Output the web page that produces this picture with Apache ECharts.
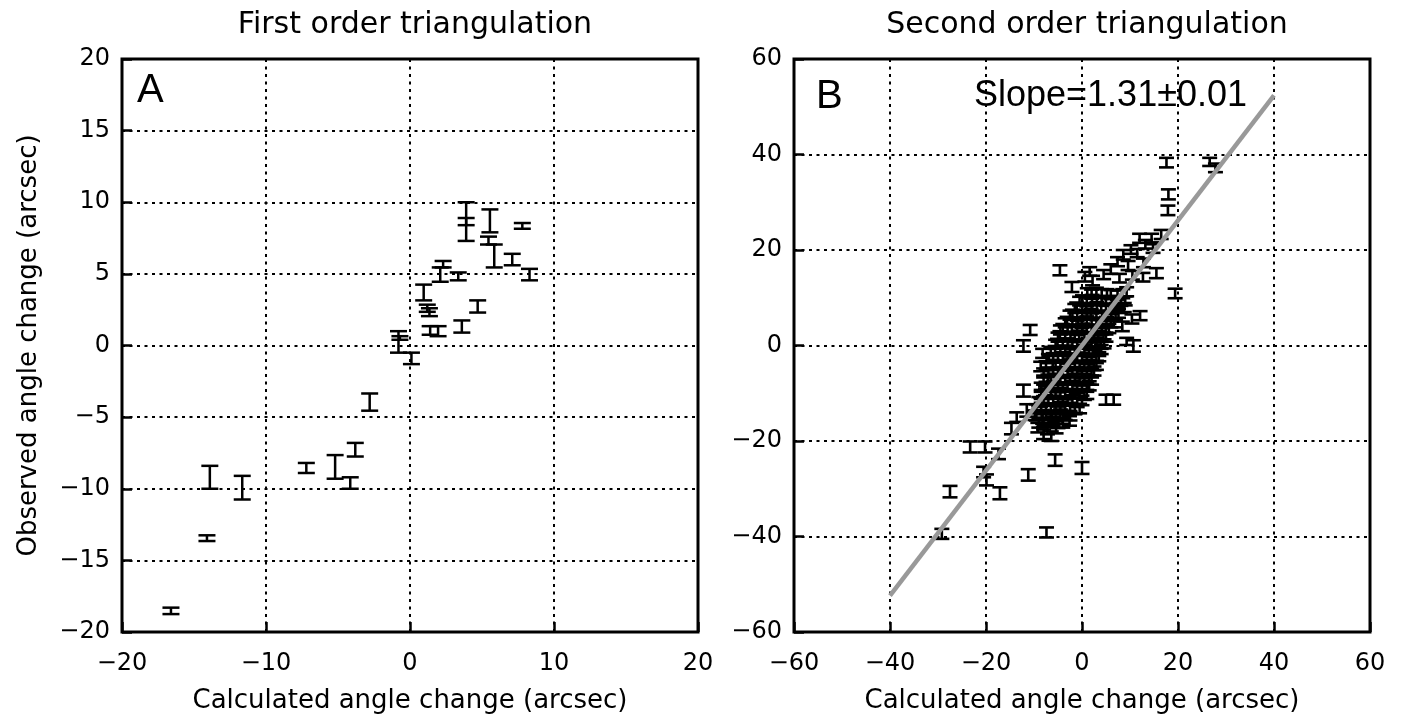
<!DOCTYPE html>
<html>
<head>
<meta charset="utf-8">
<title>Triangulation angle changes</title>
<script src="https://cdn.jsdelivr.net/npm/echarts@6/dist/echarts.min.js"></script>
<style>
  html, body { margin: 0; padding: 0; background: #fff; }
  #chart { width: 1410px; height: 723px; }
</style>
</head>
<body>
<div id="chart"></div>
<script>
// ---- text ----
const titleFirst = 'First order triangulation';
const titleSecond = 'Second order triangulation';
const xName = 'Calculated angle change (arcsec)';
const yName = 'Observed angle change (arcsec)';
const panelA = 'A';
const panelB = 'B';
const slopeText = 'Slope=1.31\u00b10.01';

// ---- axis ranges ----
const rangeFirst = { min: -20, max: 20, interval: 10, yInterval: 5 };
const rangeSecond = { min: -60, max: 60, interval: 20, yInterval: 20 };

// ---- first order: [calculated, observed low, observed high] ----
const firstOrder = [
  [-16.6, -18.75, -18.3],
  [-14.1, -13.65, -13.25],
  [-13.9, -10.0, -8.4],
  [-11.65, -10.75, -9.1],
  [-7.2, -8.9, -8.2],
  [-5.2, -9.3, -7.65],
  [-4.15, -10.0, -9.2],
  [-3.8, -7.75, -6.8],
  [-2.8, -4.55, -3.35],
  [-0.8, -0.5, 1.0],
  [-0.7, 0.4, 0.65],
  [0.1, -1.3, -0.5],
  [0.95, 3.15, 4.25],
  [1.2, 2.35, 2.85],
  [1.35, 2.05, 2.6],
  [1.4, 0.75, 1.35],
  [1.95, 0.65, 1.35],
  [2.1, 4.45, 5.45],
  [2.3, 5.45, 5.9],
  [3.35, 4.55, 5.1],
  [3.6, 0.9, 1.75],
  [3.9, 8.4, 10.0],
  [3.9, 7.3, 8.9],
  [4.7, 2.3, 3.15],
  [5.45, 7.05, 7.6],
  [5.55, 7.9, 9.5],
  [5.85, 5.45, 7.05],
  [7.1, 5.6, 6.4],
  [7.8, 8.15, 8.55],
  [8.3, 4.55, 5.35]
];

// ---- second order: [calculated, observed low, observed high] ----
const secondOuter = [
  [-29.2, -40.5, -38.4], [-7.4, -40.2, -38.1], [-27.5, -31.8, -29.4],
  [-17.1, -32.2, -29.7], [-19.9, -29.3, -27.0], [-20.5, -27.6, -25.4],
  [-23.3, -22.4, -20.1], [-20.2, -22.4, -20.1], [-17.4, -23.8, -21.6],
  [-11.2, -28.3, -25.9], [-5.6, -25.2, -22.8], [0.0, -26.9, -24.4],
  [-12.2, -10.7, -8.2], [-11.5, -14.9, -12.3], [-14.7, -18.6, -16.2],
  [-13.6, -16.0, -14.0], [5.0, -12.4, -10.3], [6.6, -12.4, -10.3],
  [10.7, -1.3, 1.1], [-10.8, 2.2, 4.3], [-12.2, -1.3, 1.1],
  [-4.6, 14.7, 16.8], [-2.1, 11.2, 13.3], [15.5, 14.1, 16.2],
  [19.4, 9.9, 11.9], [17.6, 37.3, 39.3], [26.6, 37.6, 39.3],
  [27.8, 36.3, 38.1], [18.0, 30.6, 32.7], [17.9, 27.3, 29.3],
  [9.3, 0.1, 1.6]
];

const secondBand = [
  [12.0, 21.5, 23.4], [14.5, 21.6, 23.4], [16.5, 22.3, 24.2],
  [13.2, 20.3, 22.1], [10.2, 19.2, 21.0], [8.6, 18.0, 20.0],
  [11.5, 18.5, 20.2], [7.4, 16.6, 18.5], [14.8, 19.4, 21.2],
  [9.6, 15.8, 17.7], [6.0, 15.0, 17.0], [12.8, 16.4, 18.2],
  [12.7, 13.4, 15.2], [4.5, 13.9, 15.8], [2.2, 12.6, 14.6],
  [7.8, 13.2, 15.0], [10.5, 13.8, 15.6], [0.6, 13.4, 15.4],
  [1.6, 14.6, 16.4], [12.1, 5.3, 7.2], [8.4, 3.0, 5.0],
  [10.4, 4.6, 6.5], [9.3, 10.3, 12.2], [8.8, 7.0, 8.9],
  [-8.2, -2.6, -0.7], [-8.6, -5.4, -3.4], [-7.6, -10.4, -8.5],
  [-8.6, -12.8, -10.9], [-9.8, -15.6, -13.6], [-8.2, -16.4, -14.4],
  [-6.2, -16.2, -14.2], [-4.0, -16.4, -14.4], [-2.6, -16.8, -14.8],
  [-9.2, -18.2, -16.2], [-7.2, -18.6, -16.6], [-5.4, -18.4, -16.4],
  [-8.0, -19.6, -17.6], [-6.4, -20.0, -18.0]
];

const secondCore = [
  [1.1, 10.1, 12.0], [3.0, 10.2, 12.1], [5.2, 9.9, 11.8], [7.4, 9.6, 11.5],
  [0.1, 8.4, 10.5], [2.1, 8.7, 10.6], [4.1, 8.4, 10.3], [6.2, 8.6, 10.4], [8.1, 8.3, 10.2],
  [-1.1, 7.1, 9.0], [0.9, 6.9, 8.9], [3.1, 7.2, 9.1], [5.0, 6.8, 8.7], [7.1, 7.0, 8.9],
  [-2.0, 5.6, 7.5], [0.1, 5.4, 7.4], [1.9, 5.7, 7.6], [4.2, 5.5, 7.3], [6.1, 5.4, 7.3], [7.6, 5.8, 7.7],
  [-3.1, 4.1, 6.0], [-0.9, 3.9, 5.9], [1.0, 4.2, 6.1], [3.0, 3.9, 5.8], [5.1, 4.2, 6.0], [6.6, 3.8, 5.7],
  [-4.0, 2.6, 4.5], [-2.1, 2.4, 4.4], [0.1, 2.7, 4.6], [2.0, 2.5, 4.4], [4.1, 2.3, 4.2], [5.6, 2.6, 4.5],
  [-4.6, 1.1, 3.0], [-2.4, 0.9, 2.9], [-0.6, 1.2, 3.1], [1.6, 0.9, 2.8], [3.4, 1.1, 3.0], [5.0, 0.8, 2.7],
  [-5.1, -0.6, 1.4], [-3.0, -0.4, 1.5], [-1.0, -0.7, 1.2], [1.0, -0.5, 1.4], [3.0, -0.3, 1.6], [4.6, -0.6, 1.3],
  [-5.6, -2.1, -0.1], [-3.5, -1.9, 0.0], [-1.5, -2.2, -0.2], [0.5, -1.9, 0.1], [2.4, -2.1, -0.2], [4.0, -1.8, 0.1],
  [-6.0, -3.6, -1.6], [-4.0, -3.4, -1.4], [-2.0, -3.7, -1.7], [0.0, -3.5, -1.5], [2.0, -3.6, -1.7], [3.5, -3.3, -1.4],
  [-6.1, -5.0, -3.0], [-4.5, -5.1, -3.1], [-2.5, -4.8, -2.9], [-0.5, -5.2, -3.2], [1.5, -4.9, -3.0], [3.0, -5.1, -3.2],
  [-7.0, -6.6, -4.6], [-5.0, -6.4, -4.5], [-3.0, -6.7, -4.7], [-1.0, -6.5, -4.5], [1.0, -6.6, -4.6], [2.5, -6.3, -4.4],
  [-7.1, -8.1, -6.1], [-5.5, -7.9, -5.9], [-3.5, -8.2, -6.2], [-1.5, -7.8, -5.9], [0.5, -8.0, -6.0], [2.0, -8.2, -6.3],
  [-7.5, -9.6, -7.6], [-6.0, -9.4, -7.4], [-4.0, -9.7, -7.7], [-2.0, -9.3, -7.4], [0.0, -9.6, -7.6], [1.5, -9.4, -7.5],
  [-7.6, -11.0, -9.0], [-6.5, -11.2, -9.2], [-4.5, -10.9, -8.9], [-2.5, -11.1, -9.1], [-0.5, -11.0, -9.1], [1.0, -11.2, -9.3],
  [-8.0, -12.6, -10.6], [-6.0, -12.4, -10.5], [-4.0, -12.6, -10.7], [-2.0, -12.3, -10.4], [0.0, -12.5, -10.5],
  [-8.5, -14.0, -12.0], [-6.5, -14.1, -12.1], [-4.5, -13.8, -11.9], [-2.5, -14.0, -12.0], [-0.5, -14.2, -12.2],
  [-8.4, -15.5, -13.5], [-6.5, -15.6, -13.6], [-4.5, -15.4, -13.4], [-2.5, -15.7, -13.7],
  [-8.0, -17.1, -15.1], [-6.0, -16.9, -14.9], [-4.0, -17.2, -15.2]
];

const secondCoreFill = [
  [2.0, 9.8, 11.7], [4.1, 10.0, 11.8], [6.0, 9.7, 11.6], [8.5, 9.9, 11.8],
  [-0.5, 8.4, 10.2], [1.0, 8.2, 10.1], [3.1, 8.5, 10.4], [5.0, 8.3, 10.2], [7.0, 8.1, 10.0], [9.0, 8.4, 10.3],
  [-1.5, 6.8, 8.7], [0.0, 6.9, 8.8], [2.0, 6.7, 8.6], [4.0, 6.9, 8.8], [6.0, 6.6, 8.5], [8.0, 6.8, 8.7],
  [-2.5, 5.4, 7.3], [-1.0, 5.2, 7.1], [1.0, 5.5, 7.4], [3.0, 5.3, 7.2], [5.0, 5.1, 7.0], [7.0, 5.4, 7.3],
  [-3.5, 3.8, 5.7], [-2.0, 3.9, 5.8], [0.0, 3.7, 5.6], [2.0, 3.9, 5.8], [4.0, 3.6, 5.5], [6.0, 3.8, 5.7],
  [-4.5, 2.3, 4.2], [-3.0, 2.4, 4.3], [-1.0, 2.2, 4.1], [1.0, 2.4, 4.3], [3.0, 2.1, 4.0], [5.0, 2.3, 4.2],
  [-5.0, 0.8, 2.7], [-3.5, 0.9, 2.8], [-1.5, 0.7, 2.6], [0.5, 0.9, 2.8], [2.5, 0.6, 2.5], [4.5, 0.8, 2.7],
  [-5.5, -0.7, 1.2], [-4.0, -0.6, 1.3], [-2.0, -0.8, 1.1], [0.0, -0.6, 1.3], [2.0, -0.9, 1.0], [4.0, -0.7, 1.2],
  [-6.5, -2.2, -0.3], [-4.5, -2.1, -0.2], [-2.5, -2.3, -0.4], [-0.5, -2.1, -0.2], [1.5, -2.4, -0.5], [3.5, -2.2, -0.3],
  [-7.0, -3.7, -1.8], [-5.0, -3.6, -1.7], [-3.0, -3.8, -1.9], [-1.0, -3.6, -1.7], [1.0, -3.9, -2.0], [3.0, -3.7, -1.8],
  [-7.5, -5.2, -3.3], [-5.5, -5.1, -3.2], [-3.5, -5.3, -3.4], [-1.5, -5.1, -3.2], [0.5, -5.4, -3.5], [2.5, -5.2, -3.3],
  [-8.0, -6.7, -4.8], [-6.0, -6.6, -4.7], [-4.0, -6.8, -4.9], [-2.0, -6.6, -4.7], [0.0, -6.9, -5.0], [2.0, -6.7, -4.8],
  [-8.0, -8.2, -6.3], [-6.5, -8.1, -6.2], [-4.5, -8.3, -6.4], [-2.5, -8.1, -6.2], [-0.5, -8.4, -6.5], [1.5, -8.2, -6.3],
  [-8.5, -9.7, -7.8], [-7.0, -9.6, -7.7], [-5.0, -9.8, -7.9], [-3.0, -9.6, -7.7], [-1.0, -9.9, -8.0], [1.0, -9.7, -7.8],
  [-8.5, -11.2, -9.3], [-5.5, -11.1, -9.2], [-3.5, -11.3, -9.4], [-1.5, -11.1, -9.2], [0.5, -11.4, -9.5],
  [-9.0, -12.7, -10.8], [-7.0, -12.6, -10.7], [-5.0, -12.8, -10.9], [-3.0, -12.6, -10.7], [-1.0, -12.9, -11.0],
  [-9.5, -14.2, -12.3], [-7.5, -14.1, -12.2], [-5.5, -14.3, -12.4], [-3.5, -14.1, -12.2], [-1.5, -14.4, -12.5],
  [-9.5, -15.7, -13.8], [-7.5, -15.6, -13.7], [-5.5, -15.8, -13.9], [-3.5, -15.6, -13.7],
  [-9.0, -17.2, -15.3], [-7.0, -17.1, -15.2], [-5.0, -17.3, -15.4]
];

// fitted line through the second order data
const fitLine = [[-40, -52.4], [40, 52.4]];

// ---- drawing ----
const chart = echarts.init(document.getElementById('chart'), null, { renderer: 'canvas' });

const tickFont = 'DejaVu Sans';
const minus = v => (v < 0 ? '\u2212' + Math.abs(v) : String(v));

function errorBar(capHalf, width) {
  return function (params, api) {
    const x = api.value(0);
    const top = api.coord([x, api.value(2)]);
    const bot = api.coord([x, api.value(1)]);
    const style = { stroke: '#000', lineWidth: width, fill: null };
    return {
      type: 'group',
      children: [
        { type: 'line', shape: { x1: top[0], y1: top[1], x2: bot[0], y2: bot[1] }, style },
        { type: 'line', shape: { x1: top[0] - capHalf, y1: top[1], x2: top[0] + capHalf, y2: top[1] }, style },
        { type: 'line', shape: { x1: bot[0] - capHalf, y1: bot[1], x2: bot[0] + capHalf, y2: bot[1] }, style }
      ]
    };
  };
}

const tickStyle = { show: true, inside: true, length: 10, lineStyle: { color: '#000', width: 2.5 } };
const gridLine = { show: true, lineStyle: { color: '#000', width: 2, type: [3, 4.5] } };

function xAxisFor(gridIndex, r) {
  return {
    gridIndex, type: 'value', min: r.min, max: r.max, interval: r.interval,
    name: xName, nameLocation: 'middle', nameGap: 56,
    nameTextStyle: { fontFamily: tickFont, fontSize: 26, color: '#000' },
    axisLine: { show: false, onZero: false },
    axisTick: tickStyle,
    axisLabel: { fontFamily: tickFont, fontSize: 24, color: '#000', margin: 20, formatter: minus },
    splitLine: gridLine
  };
}

function yAxisFor(gridIndex, r, withName) {
  return {
    gridIndex, type: 'value', min: r.min, max: r.max, interval: r.yInterval,
    name: withName ? yName : '', nameLocation: 'middle', nameGap: 80,
    nameTextStyle: { fontFamily: tickFont, fontSize: 26, color: '#000' },
    axisLine: { show: false, onZero: false },
    axisTick: tickStyle,
    axisLabel: { fontFamily: tickFont, fontSize: 24, color: '#000', margin: 12, formatter: minus },
    splitLine: gridLine
  };
}

const gridFrame = { show: true, borderWidth: 3, borderColor: '#000', backgroundColor: '#fff' };
const titleStyle = { fontFamily: tickFont, fontSize: 30, fontWeight: 'normal', color: '#000' };

function barSeries(data, capHalf, width) {
  return { type: 'custom', xAxisIndex: 1, yAxisIndex: 1, data,
    renderItem: errorBar(capHalf, width), encode: { x: 0, y: [1, 2] }, z: 3 };
}

chart.setOption({
  backgroundColor: '#fff',
  animation: false,
  title: [
    { text: titleFirst, left: 410, top: 5, textAlign: 'center', textStyle: titleStyle },
    { text: titleSecond, left: 1082, top: 5, textAlign: 'center', textStyle: titleStyle }
  ],
  grid: [
    Object.assign({ left: 122, top: 59, width: 576, height: 573 }, gridFrame),
    Object.assign({ left: 794, top: 59, width: 576, height: 573 }, gridFrame)
  ],
  xAxis: [xAxisFor(0, rangeFirst), xAxisFor(1, rangeSecond)],
  yAxis: [yAxisFor(0, rangeFirst, true), yAxisFor(1, rangeSecond, false)],
  graphic: [
    { type: 'text', left: 137, top: 71, z: 100,
      style: { text: panelA, font: '40px "Liberation Sans"', fill: '#000' } },
    { type: 'text', left: 816, top: 77, z: 100,
      style: { text: panelB, font: '40px "Liberation Sans"', fill: '#000' } },
    { type: 'text', left: 974, top: 78, z: 100,
      style: { text: slopeText, font: '36px "Liberation Sans"', fill: '#000' } }
  ],
  series: [
    { type: 'custom', xAxisIndex: 0, yAxisIndex: 0, data: firstOrder,
      renderItem: errorBar(8.5, 2.5), encode: { x: 0, y: [1, 2] }, z: 3 },
    barSeries(secondOuter, 7.5, 2.6),
    barSeries(secondBand, 7.5, 2.6),
    barSeries(secondCore, 7.5, 2.6),
    barSeries(secondCoreFill, 7.5, 2.6),
    { type: 'line', xAxisIndex: 1, yAxisIndex: 1, data: fitLine, showSymbol: false,
      symbol: 'none', lineStyle: { color: '#999999', width: 4.5 }, z: 5 }
  ]
});
</script>
</body>
</html>
